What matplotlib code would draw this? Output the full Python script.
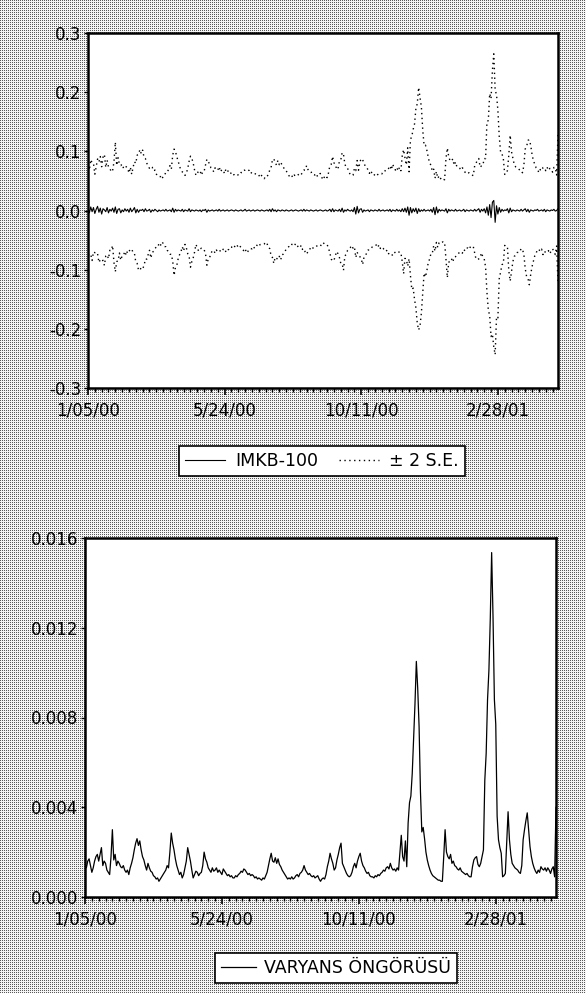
import numpy as np
import matplotlib
matplotlib.use("Agg")
import matplotlib.pyplot as plt
from matplotlib.ticker import FixedLocator, MultipleLocator, FuncFormatter

# Daily observations, 5-day weeks, 1/05/00 onward
date_labels = ["1/05/00", "5/24/00", "10/11/00", "2/28/01"]
date_label_pos = [0, 100, 200, 300]

# Conditional variance forecast (units of 1e-3)
variance_e3 = [
    1.5, 1.3, 1.6, 1.7, 1.4, 1.1, 1.3, 1.6, 1.8, 1.9, 1.6, 1.9, 2.2, 1.4, 1.6, 1.5, 1.2, 1.1, 1.0, 1.8,
    3.0, 1.65, 1.9, 1.4, 1.6, 1.5, 1.35, 1.3, 1.4, 1.2, 1.1, 1.2, 1.0, 1.3, 1.5, 1.75, 2.1, 2.4, 2.6, 2.3,
    2.5, 2.1, 1.8, 1.65, 1.4, 1.2, 1.5, 1.3, 1.15, 1.1, 0.95, 0.9, 0.8, 0.85, 0.7, 0.8, 0.9, 1.0, 1.1, 1.2,
    1.4, 1.3, 2.0, 2.85, 2.4, 2.1, 1.7, 1.4, 1.2, 1.0, 1.1, 0.85, 1.0, 1.3, 1.6, 2.2, 1.9, 1.6, 1.2, 0.85,
    1.0, 1.15, 1.1, 0.95, 1.05, 1.1, 1.4, 2.0, 1.7, 1.55, 1.3, 1.2, 1.1, 1.3, 1.15, 1.2, 1.3, 1.1, 1.2, 1.1,
    1.0, 1.25, 1.15, 1.05, 0.95, 1.0, 0.9, 0.95, 0.85, 0.85, 0.95, 0.9, 1.0, 1.05, 1.15, 1.1, 1.25, 1.2, 1.1, 1.0,
    1.05, 0.95, 1.0, 0.95, 0.85, 0.9, 0.8, 0.85, 0.8, 0.75, 0.85, 0.8, 0.95, 1.1, 1.4, 1.7, 1.95, 1.6, 1.55, 1.75,
    1.5, 1.7, 1.45, 1.35, 1.2, 1.1, 1.0, 0.9, 0.8, 0.85, 0.8, 0.9, 0.8, 0.85, 0.95, 1.0, 0.9, 1.05, 1.1, 1.2,
    1.4, 1.2, 1.1, 1.0, 1.05, 0.95, 0.9, 0.95, 0.85, 0.9, 0.95, 0.8, 0.7, 0.8, 0.85, 0.8, 1.0, 1.35, 1.6, 1.95,
    1.7, 1.5, 1.2, 1.3, 1.65, 1.9, 2.2, 2.4, 1.5, 1.35, 1.2, 1.05, 0.95, 0.9, 0.95, 1.1, 1.35, 1.5, 1.3, 1.6,
    1.8, 1.95, 1.6, 1.4, 1.3, 1.15, 1.05, 1.1, 0.95, 0.9, 0.9, 0.85, 0.95, 0.9, 1.0, 0.95, 1.05, 1.1, 1.2, 1.15,
    1.3, 1.35, 1.25, 1.5, 1.3, 1.2, 1.25, 1.15, 1.3, 1.2, 2.0, 2.75, 1.8, 1.6, 2.5, 1.35, 3.3, 4.2, 4.5, 5.5,
    7.1, 8.6, 10.5, 9.3, 7.6, 4.7, 2.9, 3.1, 2.6, 2.0, 1.65, 1.4, 1.2, 1.05, 0.95, 0.9, 0.85, 0.8, 0.75, 0.75,
    0.7, 0.7, 1.8, 3.0, 2.0, 1.8, 1.7, 1.9, 1.5, 1.6, 1.4, 1.35, 1.25, 1.2, 1.3, 1.15, 1.1, 1.05, 1.0, 1.05,
    0.95, 0.9, 0.9, 1.35, 1.65, 1.75, 1.8, 1.45, 1.35, 1.5, 1.8, 2.1, 5.2, 6.4, 8.8, 10.1, 12.4, 15.35, 12.5, 8.8,
    7.7, 3.6, 2.55, 2.2, 1.95, 0.9, 0.95, 1.05, 2.4, 3.8, 2.55, 1.9, 1.5, 1.4, 1.3, 1.25, 1.2, 1.1, 1.05, 1.4,
    2.55, 3.0, 3.4, 3.75, 3.0, 2.25, 1.8, 1.5, 1.3, 1.15, 1.05, 1.2, 1.1, 1.35, 1.25, 1.2, 1.3, 1.15, 1.3, 1.2,
    1.05, 1.25, 1.35, 0.9, 4.0,
]

# IMKB-100 return forecast (units of 1e-3)
mean_e3 = [
    3, -4, 6, -2, 5, -5, 2, 7, -3, 4, -6, 3, 1, -2, 5, -4, 2, -1, 4, -3,
    6, -5, 2, 3, -4, 1, -2, 3, -1, 2, -3, 4, -2, 1, 5, -4, 2, -3, 1, 0,
    2, -2, 3, -1, 0, 2, -3, 1, -1, 2, 0, -2, 1, -1, 0, 1, -1, 2, -1, 0,
    1, -2, 4, -3, 2, -1, 1, 0, -1, 2, -2, 1, 0, -1, 3, -2, 1, 0, -1, 1,
    0, -1, 1, -2, 1, 0, 2, -3, 1, -1, 0, 1, -1, 0, 1, -1, 2, -1, 0, 1,
    -1, 0, 1, -1, 0, 1, 0, -1, 1, 0, -1, 0, 1, -1, 0, 2, -1, 0, 1, -1,
    0, 1, -1, 0, 1, 0, -1, 1, 0, -1, 0, 1, -1, 2, -2, 3, -1, 1, -2, 1,
    0, -1, 1, 0, -1, 1, 0, -1, 0, 1, -1, 0, 1, 0, -1, 0, 1, -1, 2, -1,
    1, 0, -1, 1, 0, -1, 0, 1, -1, 0, 1, 0, -1, 0, 1, -1, 0, 2, -2, 3,
    -2, 1, 0, -1, 2, -2, 4, -3, 1, -1, 2, 0, -1, 1, -2, 5, -6, 7, -4, 2,
    3, -3, 1, -1, 0, 1, -2, 1, 0, -1, 1, 0, -1, 2, -1, 0, 1, -1, 0, 1,
    -1, 2, -2, 1, 0, -1, 2, -1, 1, -2, 3, -2, 4, -3, 6, -8, 5, -4, 3, -2,
    4, -5, 3, -2, 1, -1, 2, -1, 0, 1, -1, 2, -3, 5, -7, 6, -4, 2, -1, 1,
    0, -1, 3, -4, 2, -1, 1, 0, -1, 2, -1, 0, 1, -1, 0, 2, -2, 1, 0, -1,
    1, 0, -1, 2, -1, 1, 3, -3, 2, -1, 3, -4, 6, -8, 10, -12, 14, 17, -20, 8,
    -6, 5, -3, 2, -1, 1, 0, 3, -4, 4, -2, 1, 0, -1, 1, 0, -1, 2, -1, 1,
    3, -2, 2, -3, 1, 0, -1, 1, 0, 2, -1, 0, 1, -1, 2, -2, 1, 0, -1, 1,
    0, 2, -1, 0, 3,
]

assert len(variance_e3) == len(mean_e3), (len(variance_e3), len(mean_e3))

variance = np.array(variance_e3) * 1e-3
mean = np.array(mean_e3) * 1e-3
se = np.sqrt(variance)
upper = mean + 2 * se
lower = mean - 2 * se
obs = np.arange(len(variance))

W, H = 586, 993
fig = plt.figure(figsize=(W / 100, H / 100), dpi=100)

# halftone grey page background
yy, xx = np.mgrid[0:H, 0:W]
bg = np.full((H, W), 0.96)
bg[((xx + yy) % 2 == 0) & (yy % 2 == 0)] = 0.35
fig.figimage(bg, cmap="gray", vmin=0, vmax=1, zorder=-10)

FONT = "DejaVu Sans"
TICK_FS = 12
LEG_FS = 12.5


def style_axis(ax, ymin, ymax, yticks, fmt):
    ax.set_zorder(5)
    ax.set_facecolor("white")
    ax.patch.set_alpha(1.0)
    ax.set_xlim(0, len(obs) - 1)
    ax.set_ylim(ymin, ymax)
    for s in ax.spines.values():
        s.set_linewidth(1.8)
        s.set_color("black")
    ax.xaxis.set_major_locator(FixedLocator(date_label_pos))
    ax.set_xticklabels(date_labels)
    ax.xaxis.set_minor_locator(MultipleLocator(5))
    ax.yaxis.set_major_locator(FixedLocator(yticks))
    ax.yaxis.set_major_formatter(FuncFormatter(fmt))
    ax.tick_params(axis="x", which="major", direction="out", length=5, width=1.2, pad=5)
    ax.tick_params(axis="x", which="minor", direction="out", length=3, width=1.0)
    ax.tick_params(axis="y", which="major", direction="out", length=3, width=1.0, pad=2)
    ax.tick_params(top=False, right=False)
    for lab in ax.get_xticklabels() + ax.get_yticklabels():
        lab.set_fontfamily(FONT)
        lab.set_fontsize(TICK_FS)


# --- top panel: return forecast with +/- 2 S.E. band
ax1 = fig.add_axes([88 / W, 1 - 388 / H, 470 / W, 355 / H])
ax1.plot(obs, mean, color="black", lw=0.8, label="IMKB-100")
ax1.plot(obs, upper, color="black", lw=1.0, ls=(0, (1, 2.5)), label="\u00b1 2 S.E.")
ax1.plot(obs, lower, color="black", lw=1.0, ls=(0, (1, 2.5)))
style_axis(ax1, -0.3, 0.3, [-0.3, -0.2, -0.1, 0.0, 0.1, 0.2, 0.3],
           lambda v, p: f"{v:.1f}".replace("\u2212", "-"))

h1, l1 = ax1.get_legend_handles_labels()
leg1 = fig.legend(h1, l1, loc="center", bbox_to_anchor=(322 / W, 1 - 461 / H),
                  ncol=2, frameon=True, fancybox=False, framealpha=1,
                  edgecolor="black", facecolor="white", handlelength=2.3,
                  handletextpad=0.6, columnspacing=1.2, borderpad=0.35,
                  prop={"family": FONT, "size": LEG_FS})
leg1.get_frame().set_linewidth(1.2)
leg1.set_zorder(6)

# --- bottom panel: variance forecast
ax2 = fig.add_axes([85 / W, 1 - 897 / H, 471 / W, 359 / H])
ax2.plot(obs, variance, color="black", lw=0.9, label="VARYANS \u00d6NG\u00d6R\u00dcS\u00dc")
style_axis(ax2, 0.0, 0.016, [0.0, 0.004, 0.008, 0.012, 0.016],
           lambda v, p: f"{v:.3f}")

h2, l2 = ax2.get_legend_handles_labels()
leg2 = fig.legend(h2, l2, loc="center", bbox_to_anchor=(336 / W, 1 - 968 / H),
                  ncol=1, frameon=True, fancybox=False, framealpha=1,
                  edgecolor="black", facecolor="white", handlelength=2.0,
                  handletextpad=0.5, borderpad=0.35,
                  prop={"family": FONT, "size": LEG_FS})
leg2.get_frame().set_linewidth(1.2)
leg2.set_zorder(6)

fig.savefig("out.png", dpi=100)
